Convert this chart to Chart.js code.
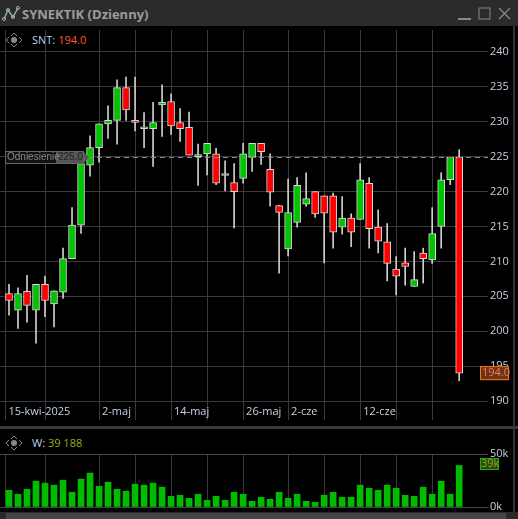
<!DOCTYPE html>
<html><head><meta charset="utf-8">
<script src="https://cdn.jsdelivr.net/npm/chart.js@4"></script>
<style>
html,body{margin:0;padding:0;background:#000;width:518px;height:519px;overflow:hidden;font-family:"Open Sans",sans-serif}
#title{position:absolute;left:0;top:0;width:518px;height:26px;background:#2b2b2b}
#t1{position:absolute;left:22px;top:5px;color:#9c9c9c;font:bold 13px "Open Sans";}
#hdr1{position:absolute;left:32px;top:32px;font:11px "Open Sans";color:#bcd0e6}
#hdr2{position:absolute;left:32px;top:435px;font:11px "Open Sans";color:#bcd0e6}
#sep{position:absolute;left:0;top:426px;width:518px;height:3px;background:#3a3a3a}
#scroll{position:absolute;left:0;top:512px;width:518px;height:7px;background:#2a2a2a}
#thumb{position:absolute;left:6px;top:513px;width:500px;height:6px;background:#454545}
#rb{position:absolute;left:513px;top:26px;width:2px;height:486px;background:#333}
canvas{position:absolute;left:0}
</style></head><body>
<div id="title"></div>
<svg style="position:absolute;left:2px;top:6px" width="18" height="16"><polyline points="2,13 6,4 11,11 16,2" fill="none" stroke="#9aa" stroke-width="1.5"/><circle cx="2" cy="13" r="1.6" fill="none" stroke="#9aa"/><circle cx="6" cy="4" r="1.6" fill="none" stroke="#9aa"/><circle cx="11" cy="11" r="1.6" fill="none" stroke="#9aa"/><circle cx="16" cy="2" r="1.6" fill="none" stroke="#9aa"/></svg>
<div id="t1">SYNEKTIK (Dzienny)</div>
<svg style="position:absolute;left:455px;top:6px" width="60" height="16"><line x1="3" y1="13" x2="16" y2="13" stroke="#888" stroke-width="2"/><rect x="24" y="2" width="11" height="11" fill="none" stroke="#888"/><path d="M44 2 L55 13 M55 2 L44 13" stroke="#888" stroke-width="1.3"/></svg>
<svg style="position:absolute;left:5px;top:32px" width="18" height="16"><path d="M9 1 L12 4 M9 1 L6 4 M9 15 L12 12 M9 15 L6 12 M1 8 L4 5 M1 8 L4 11 M17 8 L14 5 M17 8 L14 11" stroke="#888" fill="none"/><circle cx="9" cy="8" r="3" fill="#888"/></svg>
<div id="hdr1">SNT: <span style="color:#ff5a30">194.0</span></div>
<svg style="position:absolute;left:5px;top:435px" width="18" height="16"><path d="M9 1 L12 4 M9 1 L6 4 M9 15 L12 12 M9 15 L6 12 M1 8 L4 5 M1 8 L4 11 M17 8 L14 5 M17 8 L14 11" stroke="#888" fill="none"/><circle cx="9" cy="8" r="3" fill="#888"/></svg>
<div id="hdr2">W: <span style="color:#8fae1a">39 188</span></div>
<canvas id="c1" width="518" height="400" style="top:26px;width:518px;height:400px"></canvas>
<div id="sep"></div>
<canvas id="c2" width="518" height="84" style="top:428px;width:518px;height:84px"></canvas>
<div id="scroll"></div><div id="thumb"></div>
<div id="rb"></div>
<script>
const dates=["15-kwi-2025","16-kwi","17-kwi","22-kwi","23-kwi","24-kwi","25-kwi","28-kwi","29-kwi","30-kwi","2-maj","5-maj","6-maj","7-maj","8-maj","9-maj","12-maj","13-maj","14-maj","15-maj","16-maj","19-maj","20-maj","21-maj","22-maj","23-maj","26-maj","27-maj","28-maj","29-maj","30-maj","2-cze","3-cze","4-cze","5-cze","6-cze","9-cze","10-cze","11-cze","12-cze","13-cze","16-cze","17-cze","18-cze","20-cze","23-cze","24-cze","25-cze","26-cze","27-cze","30-cze"];
const openP=[205.4,203.0,205.7,203.0,206.7,203.9,205.6,210.4,215.2,223.8,226.3,229.7,230.2,234.9,230.2,229.0,229.0,232.4,232.9,229.9,229.2,225.0,225.4,225.4,222.3,221.3,221.9,224.9,226.9,223.2,218.0,211.8,215.6,218.2,220.0,219.4,219.4,214.9,216.2,216.0,221.2,214.9,212.8,208.9,209.8,206.4,211.2,210.2,215.0,221.7,224.9];
const highP=[206.7,206.2,208.0,206.7,207.9,205.8,211.9,217.7,224.0,228.0,229.7,232.3,236.0,236.4,236.4,231.3,232.8,235.3,234.0,231.9,231.4,226.8,226.9,226.2,224.4,224.0,226.9,226.9,226.9,225.4,218.0,221.8,222.0,222.7,220.0,219.4,219.8,219.3,216.8,224.0,222.0,217.4,215.4,210.7,211.9,211.4,211.9,217.7,222.7,224.9,226.0];
const lowP=[202.3,200.4,201.3,198.3,202.1,200.6,204.7,210.4,214.0,222.2,224.2,227.6,226.8,230.2,228.7,226.3,223.6,227.9,228.2,227.2,225.2,220.9,222.4,221.0,220.1,214.8,221.2,222.9,223.9,217.9,208.3,210.8,214.9,217.9,216.3,209.8,211.9,213.9,212.1,216.0,211.9,211.2,207.2,205.2,206.6,206.4,206.9,209.7,211.9,221.0,192.9];
const closeP=[204.4,205.4,203.7,206.7,204.4,205.8,210.4,215.2,224.0,226.3,229.7,230.2,234.9,231.7,229.9,229.0,229.9,232.8,229.4,229.0,225.2,225.3,226.9,221.2,222.3,220.0,225.4,226.9,225.7,219.9,217.0,217.0,220.9,219.0,216.8,216.9,214.2,216.2,214.2,221.7,214.7,212.9,209.7,207.9,209.3,207.4,210.4,214.0,221.7,224.9,194.0];
const volume=[15.8,12.0,16.8,24.4,22.5,20.6,25.3,13.9,26.3,32.0,19.6,23.4,16.8,14.9,21.5,20.6,22.5,18.7,10.1,11.1,8.2,12.0,6.3,10.1,6.3,13.9,12.0,5.4,9.2,7.3,13.9,8.2,12.0,5.4,4.4,11.1,13.9,9.2,9.2,20.6,17.7,15.8,20.6,17.7,11.1,10.1,18.7,12.0,24.4,12.0,39.188].map(v=>v*1000);
const priceTicks=[190,195,200,205,210,215,220,225,230,235,240];
const gridIdx=[0.6,5,11,15,19,23,27,32,36,40,44,48];
const labelIdx=[1,11,19,27,32,40];
const refPrice=225.0, lastPrice=194.0;

const GREEN='#00c400', RED='#ff0000', FONT='"Open Sans"';
const xs=dates.map((d,i)=>i+1);
const body=xs.map((x,i)=>({x,y:[openP[i],closeP[i]]}));
const wick=xs.map((x,i)=>({x,y:[lowP[i],highP[i]]}));
const col=xs.map((x,i)=>closeP[i]>=openP[i]?GREEN:RED);
const xCommon={type:'linear',min:0,max:54.2,offset:false,
  afterBuildTicks:a=>{a.ticks=gridIdx.map(v=>({value:v}));},
  afterFit:a=>{a.height=0;a.paddingLeft=0;a.paddingRight=0;},
  ticks:{display:false},grid:{color:'#3a3a3a',drawTicks:false,offset:false},border:{display:false}};
const yFit=a=>{a.width=30;a.paddingTop=0;a.paddingBottom=0;};

const overlay={id:'ov',afterDatasetsDraw(c){
  const ctx=c.ctx,x=c.scales.x,y=c.scales.y,ca=c.chartArea;
  ctx.save();
  ctx.font='11px '+FONT;ctx.textBaseline='middle';ctx.fillStyle='#c4d2e2';
  labelIdx.forEach(i=>{ctx.fillText(dates[i-1],x.getPixelForValue(i===1?0.6:i)+3,386);});
  const ry=Math.round(y.getPixelForValue(refPrice))+0.5;
  ctx.strokeStyle='#888';ctx.setLineDash([5,4]);ctx.beginPath();ctx.moveTo(88,ry);ctx.lineTo(ca.right,ry);ctx.stroke();ctx.setLineDash([]);
  ctx.fillStyle='#111';ctx.fillRect(5,ry-6.5,51,13);ctx.fillStyle='#555';ctx.fillRect(56,ry-6.5,27,13);
  ctx.beginPath();ctx.moveTo(83,ry-6.5);ctx.lineTo(89,ry);ctx.lineTo(83,ry+6.5);ctx.fill();
  ctx.strokeStyle='#666';ctx.strokeRect(5.5,ry-6,78,12);
  ctx.font='10px "Liberation Sans"';
  ctx.fillStyle='#8a8a8a';ctx.fillText('Odniesienie',7,ry);ctx.fillStyle='#222';ctx.fillText('225.0',58,ry);
  ctx.font='11px '+FONT;
  const ly=y.getPixelForValue(lastPrice);
  ctx.fillStyle='#6a3416';ctx.fillRect(480,ly-7,29,14);ctx.strokeStyle='#f07818';ctx.strokeRect(480.5,ly-6.5,28,13);
  ctx.fillStyle='#ff7a50';ctx.fillText('194.0',482,ly);
  ctx.restore();}};

new Chart(document.getElementById('c1'),{
  type:'bar',
  data:{datasets:[
    {data:wick,backgroundColor:'#cfcfcf',barThickness:1,grouped:false,order:2},
    {data:body,backgroundColor:col,borderColor:'#d8d8d8',borderWidth:1,borderSkipped:false,barThickness:7,minBarLength:2,grouped:false,order:1}
  ]},
  options:{responsive:false,animation:false,devicePixelRatio:1,
    layout:{padding:{top:4,bottom:6,left:0,right:0}},
    plugins:{legend:{display:false},tooltip:{enabled:false}},
    scales:{x:xCommon,
      y:{position:'right',min:187.286,max:243.143,
        afterBuildTicks:a=>{a.ticks=priceTicks.map(v=>({value:v}));},
        afterFit:yFit,
        ticks:{color:'#c4d2e2',font:{family:FONT,size:11},padding:2},
        grid:{color:'#3a3a3a',drawTicks:false},border:{display:false}}}},
  plugins:[overlay]});

const volOv={id:'vo',afterDatasetsDraw(c){const ctx=c.ctx;ctx.save();
  ctx.fillStyle='#2e4a10';ctx.fillRect(480,30,19,12);ctx.strokeStyle='#1ea81e';ctx.strokeRect(480.5,30.5,18,11);
  ctx.font='11px '+FONT;ctx.textBaseline='middle';ctx.fillStyle='#8fae1a';ctx.fillText('39k',481,36);ctx.restore();}};
new Chart(document.getElementById('c2'),{
  type:'bar',
  data:{datasets:[{data:xs.map((x,i)=>({x,y:volume[i]})),backgroundColor:'#00bb00',barThickness:6}]},
  options:{responsive:false,animation:false,devicePixelRatio:1,
    layout:{padding:{top:26,bottom:5}},
    plugins:{legend:{display:false},tooltip:{enabled:false}},
    scales:{x:xCommon,
      y:{position:'right',min:0,max:50000,
        afterBuildTicks:a=>{a.ticks=[{value:0},{value:50000}];},
        afterFit:yFit,
        ticks:{color:'#c4d2e2',font:{family:FONT,size:11},padding:2,callback:v=>(v/1000)+'k'},
        grid:{color:'#444',drawTicks:false},border:{display:false}}}},
  plugins:[volOv]});
</script></body></html>
